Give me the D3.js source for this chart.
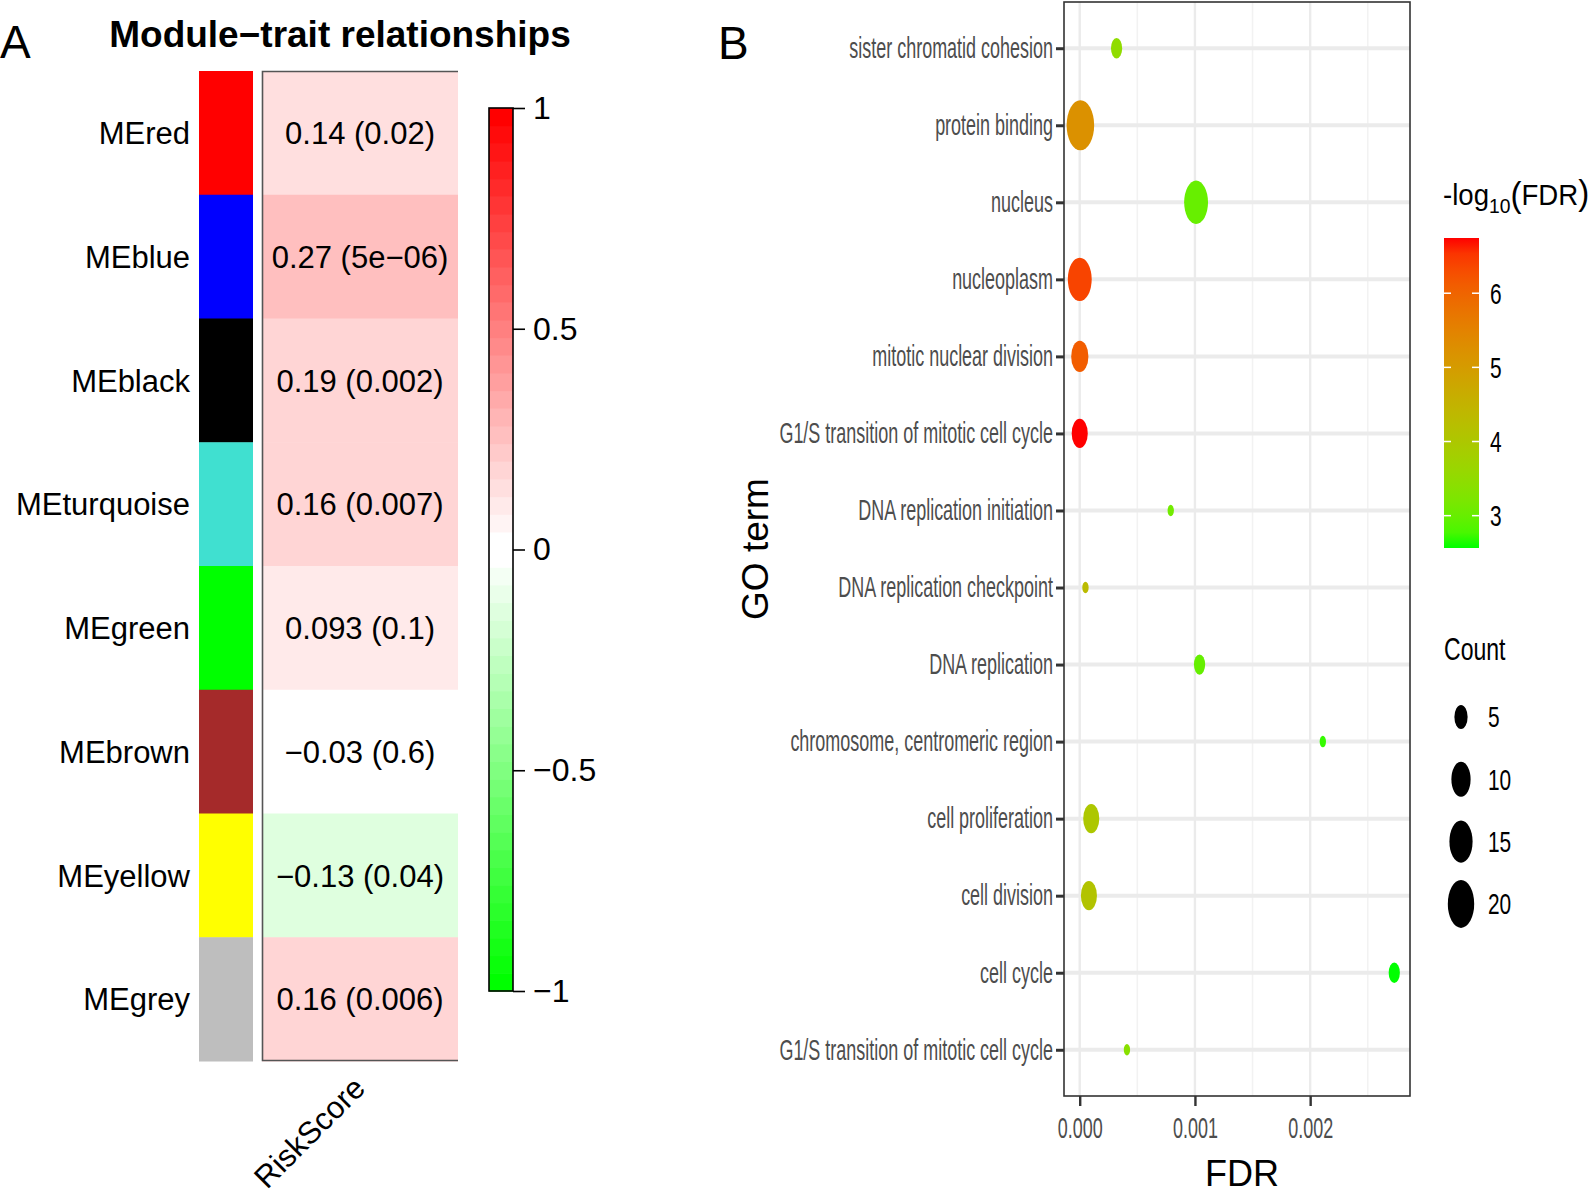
<!DOCTYPE html>
<html><head><meta charset="utf-8">
<script src="https://cdn.jsdelivr.net/npm/d3@7"></script>
<style>
body{margin:0;background:#fff}
svg{display:block}
text{font-family:"Liberation Sans",Arial,Helvetica,sans-serif}
</style>
</head><body>
<svg id="chart" width="1594" height="1194"></svg>
<script>
// ---------- Panel A data ----------
const modules = ["MEred","MEblue","MEblack","MEturquoise","MEgreen","MEbrown","MEyellow","MEgrey"];
const moduleCor = [0.14, 0.27, 0.19, 0.16, 0.093, -0.03, -0.13, 0.16];
const modulePval = ["0.02","5e\u221206","0.002","0.007","0.1","0.6","0.04","0.006"];
const traitLabel = "RiskScore";
const corTicks = [1, 0.5, 0, -0.5, -1];

// ---------- Panel B data ----------
const goTerms = ["sister chromatid cohesion","protein binding","nucleus","nucleoplasm",
  "mitotic nuclear division","G1/S transition of mitotic cell cycle","DNA replication initiation",
  "DNA replication checkpoint","DNA replication","chromosome, centromeric region",
  "cell proliferation","cell division","cell cycle","G1/S transition of mitotic cell cycle "];
const goFDR = [3.2e-4, 6e-6, 1.01e-3, 4e-7, 8e-7, 1.8e-7, 7.9e-4, 5e-5, 1.04e-3, 2.11e-3, 1.0e-4, 8e-5, 2.73e-3, 4.1e-4];
const goCount = [4, 22, 16, 16, 8, 7, 3, 3, 4, 3, 7, 7, 4, 3];
const fdrTicks = [0, 0.001, 0.002];
const colorTicks = [3, 4, 5, 6];
const countBreaks = [5, 10, 15, 20];

// R colour names used by WGCNA module names
const rColor = {red:"#FF0000", blue:"#0000FF", black:"#000000", turquoise:"#40E0D0",
  green:"#00FF00", brown:"#A52A2A", yellow:"#FFFF00", grey:"#BEBEBE"};

const svg = d3.select("#chart");
svg.append("rect").attr("width",1594).attr("height",1194).attr("fill","#fff");

// ================= PANEL A =================
const A = svg.append("g");
A.append("text").attr("x",0).attr("y",58).attr("font-size",46).text("A");
A.append("text").attr("x",340).attr("y",47).attr("text-anchor","middle")
  .attr("font-size",37).attr("font-weight","bold").text("Module\u2212trait relationships");

const yA = d3.scaleBand().domain(modules).range([71,1061]);
function gwr(v){
  const i = Math.min(49, Math.max(0, Math.floor((v+1)/0.04 + 1e-9)));
  if(i < 25){ const t = i/24; return d3.rgb(255*t,255,255*t).formatHex(); }
  const t = (i-25)/24; return d3.rgb(255,255*(1-t),255*(1-t)).formatHex();
}
// module colour column
A.selectAll("rect.mod").data(modules).join("rect").attr("class","mod")
  .attr("x",199).attr("width",54).attr("y",d=>yA(d)).attr("height",yA.bandwidth()+0.5)
  .attr("fill",d=>rColor[d.slice(2)]);
// heat cells
A.selectAll("rect.cell").data(modules).join("rect").attr("class","cell")
  .attr("x",262).attr("width",196).attr("y",d=>yA(d)).attr("height",yA.bandwidth()+0.5)
  .attr("fill",(d,i)=>gwr(moduleCor[i]));
const fmtCor = v => (v<0?"\u2212":"") + String(Math.abs(v));
A.selectAll("text.cellt").data(modules).join("text").attr("class","cellt")
  .attr("x",360).attr("y",d=>yA(d)+yA.bandwidth()/2).attr("dy","0.36em")
  .attr("text-anchor","middle").attr("font-size",31)
  .text((d,i)=>`${fmtCor(moduleCor[i])} (${modulePval[i]})`);
// row labels
A.selectAll("text.rowl").data(modules).join("text").attr("class","rowl")
  .attr("x",190).attr("y",d=>yA(d)+yA.bandwidth()/2).attr("dy","0.36em")
  .attr("text-anchor","end").attr("font-size",31).text(d=>d);
// box lines (left, top, bottom)
A.append("path").attr("d",`M458,71.5H262.5V1060.5H458`).attr("fill","none")
  .attr("stroke","#555").attr("stroke-width",1.6);
// trait label
A.append("text").attr("transform","translate(367,1090) rotate(-45)")
  .attr("text-anchor","end").attr("font-size",31).text(traitLabel);

// colour bar
const cbA = d3.scaleLinear().domain([-1,1]).range([991,108]);
const bands = d3.range(50).map(i=>-1+i*0.04);
A.selectAll("rect.cb").data(bands).join("rect").attr("class","cb")
  .attr("x",489).attr("width",24).attr("y",d=>cbA(d+0.04)).attr("height",d=>cbA(d)-cbA(d+0.04)+0.6)
  .attr("fill",d=>gwr(d+0.02));
A.append("rect").attr("x",489).attr("y",108).attr("width",24).attr("height",883)
  .attr("fill","none").attr("stroke","#000").attr("stroke-width",1.6);
const axA = A.append("g").attr("transform","translate(513,0)")
  .call(d3.axisRight(cbA).tickValues(corTicks).tickSize(12).tickPadding(8).tickFormat(d3.format("")));
axA.select(".domain").remove();
axA.selectAll(".tick line").attr("stroke","#000").attr("stroke-width",1.6);
axA.selectAll(".tick text").attr("font-size",32).attr("fill","#000").attr("font-family",null);

// ================= PANEL B =================
const B = svg.append("g");
B.append("text").attr("x",718).attr("y",59).attr("font-size",46).text("B");

const px0 = 1064, px1 = 1410, py0 = 2, py1 = 1096;
const fdrExt = d3.extent(goFDR);
const pad = (fdrExt[1]-fdrExt[0])*0.05;
const x = d3.scaleLinear().domain([fdrExt[0]-pad, fdrExt[1]+pad]).range([px0,px1]);
const y = d3.scalePoint().domain(goTerms).range([py0,py1]).padding(0.6);

const logv = goFDR.map(f=>-Math.log10(f));
const col = d3.scaleLinear().domain(d3.extent(logv)).range(["#00ff00","#ff0000"]).interpolate(d3.interpolateLab);
const cntNorm = d3.scaleLinear().domain(d3.extent(goCount));
const diam = d3.scaleLinear().domain([0,1]).range([11.5,50.1]);
const dsize = c => diam(Math.sqrt(cntNorm(c)));
const aspect = 0.55;

// grid
const minor = x.ticks(6).filter(t=>!fdrTicks.some(m=>Math.abs(m-t)<1e-12));
B.selectAll("line.gmin").data(minor).join("line").attr("class","gmin")
  .attr("x1",d=>x(d)).attr("x2",d=>x(d)).attr("y1",py0).attr("y2",py1)
  .attr("stroke","#f2f2f2").attr("stroke-width",1.6);
B.selectAll("line.gmaj").data(fdrTicks).join("line").attr("class","gmaj")
  .attr("x1",d=>x(d)).attr("x2",d=>x(d)).attr("y1",py0).attr("y2",py1)
  .attr("stroke","#ebebeb").attr("stroke-width",2.4);
B.selectAll("line.gy").data(goTerms).join("line").attr("class","gy")
  .attr("x1",px0).attr("x2",px1).attr("y1",d=>y(d)).attr("y2",d=>y(d))
  .attr("stroke","#ebebeb").attr("stroke-width",4);

// points
B.selectAll("ellipse.pt").data(goTerms).join("ellipse").attr("class","pt")
  .attr("cx",(d,i)=>x(goFDR[i])).attr("cy",d=>y(d))
  .attr("ry",(d,i)=>dsize(goCount[i])/2).attr("rx",(d,i)=>dsize(goCount[i])/2*aspect)
  .attr("fill",(d,i)=>col(logv[i]));

// border
B.append("rect").attr("x",px0).attr("y",py0).attr("width",px1-px0).attr("height",py1-py0)
  .attr("fill","none").attr("stroke","#333").attr("stroke-width",1.6);

// axes
const sx = 0.62;
const gy = B.append("g").attr("transform",`translate(${px0},0)`)
  .call(d3.axisLeft(y).tickSize(8).tickPadding(3).tickFormat(d=>d.trim()));
gy.select(".domain").remove();
gy.selectAll(".tick line").attr("stroke","#333").attr("stroke-width",3);
gy.selectAll(".tick text").attr("x",null).attr("transform",`translate(-11,0) scale(${sx},1)`)
  .attr("font-size",29).attr("fill","#4d4d4d").attr("font-family",null);

const gx = B.append("g").attr("transform",`translate(0,${py1})`)
  .call(d3.axisBottom(x).tickValues(fdrTicks).tickSize(10).tickPadding(11).tickFormat(d3.format(".3f")));
gx.select(".domain").remove();
gx.selectAll(".tick line").attr("stroke","#333").attr("stroke-width",2.4);
gx.selectAll(".tick text").attr("transform",`scale(${sx},1)`).attr("x",null)
  .attr("font-size",29).attr("fill","#4d4d4d").attr("font-family",null);

B.append("text").attr("transform",`translate(1242,1186)`).attr("text-anchor","middle")
  .attr("font-size",36).text("FDR");
B.append("text").attr("transform",`translate(768,${(py0+py1)/2}) rotate(-90)`).attr("text-anchor","middle")
  .attr("font-size",37).text("GO term");

// colour legend
const cb = d3.scaleLinear().domain(d3.extent(logv)).range([548,238]);
const defs = svg.append("defs");
const grad = defs.append("linearGradient").attr("id","gB").attr("x1",0).attr("x2",0).attr("y1",1).attr("y2",0);
d3.range(0,1.0001,0.05).forEach(t=>{
  grad.append("stop").attr("offset",t).attr("stop-color",col(cb.domain()[0]+t*(cb.domain()[1]-cb.domain()[0])));
});
B.append("rect").attr("x",1444).attr("y",238).attr("width",35).attr("height",310).attr("fill","url(#gB)");
colorTicks.forEach(v=>{
  B.append("line").attr("x1",1444).attr("x2",1451).attr("y1",cb(v)).attr("y2",cb(v)).attr("stroke","#fff").attr("stroke-width",1.5);
  B.append("line").attr("x1",1472).attr("x2",1479).attr("y1",cb(v)).attr("y2",cb(v)).attr("stroke","#fff").attr("stroke-width",1.5);
  B.append("text").attr("transform",`translate(1490,${cb(v)}) scale(0.72,1)`).attr("dy","0.36em")
    .attr("font-size",29).text(v);
});
const lt = B.append("text").attr("transform","translate(1443,205) scale(0.92,1)").attr("font-size",30);
lt.append("tspan").text("-log");
lt.append("tspan").attr("font-size",21).attr("dy",8).text("10");
lt.append("tspan").attr("font-size",36).attr("dy",-6).text("(");
lt.append("tspan").attr("font-size",30).attr("dy",-2).text("FDR");
lt.append("tspan").attr("font-size",36).text(")");

// size legend
B.append("text").attr("transform","translate(1444,660) scale(0.72,1)").attr("font-size",32).text("Count");
countBreaks.forEach((c,i)=>{
  const cy = 717 + i*62.3;
  const d = dsize(c);
  B.append("ellipse").attr("cx",1461).attr("cy",cy).attr("ry",d/2).attr("rx",d/2*aspect).attr("fill","#000");
  B.append("text").attr("transform",`translate(1488,${cy}) scale(0.72,1)`).attr("dy","0.36em")
    .attr("font-size",29).text(c);
});
</script>
</body></html>
